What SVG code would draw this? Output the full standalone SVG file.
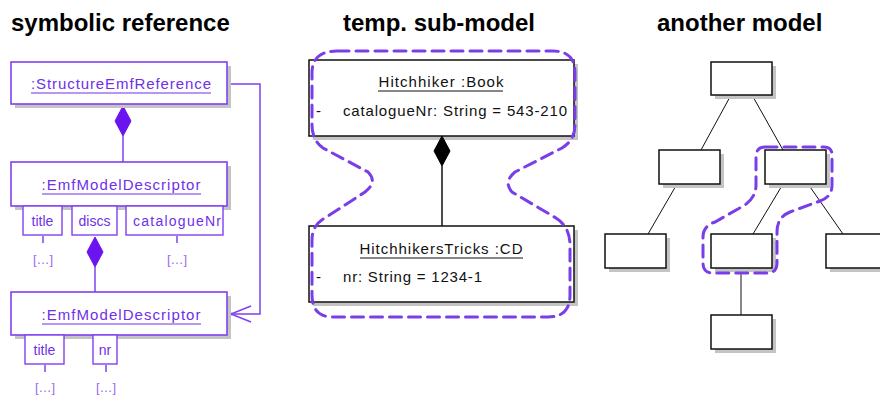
<svg xmlns="http://www.w3.org/2000/svg" width="880" height="396" viewBox="0 0 880 396">
<style>
.title{font-family:"Liberation Sans",Arial,sans-serif;font-size:24px;font-weight:bold;fill:#000}
.pbox{fill:#fff;stroke:#8040f0;stroke-width:1.6}
.pattr{fill:#fff;stroke:#8040f0;stroke-width:1.4}
.shadow{fill:#c4c4c4}
.ptxt{font-family:"Liberation Sans",Arial,sans-serif;font-size:15px;fill:#7030e8}
.ptxt2{font-family:"Liberation Sans",Arial,sans-serif;font-size:14px;fill:#7030e8}
.dots{font-family:"Liberation Sans",Arial,sans-serif;font-size:13px;fill:#9a6af0}
.pline{stroke:#8040f0;stroke-width:1.5;fill:none}
.bbox{fill:#fff;stroke:#111;stroke-width:1.5}
.btxt{font-family:"Liberation Sans",Arial,sans-serif;font-size:15px;fill:#111}
.bline{stroke:#111;stroke-width:1;fill:none}
.dash{fill:none;stroke:#7a3ee8;stroke-width:3;stroke-dasharray:12 7;stroke-linecap:round}
</style>

<text class="title" x="11" y="31">symbolic reference</text>
<text class="title" x="343" y="31">temp. sub-model</text>
<text class="title" x="657" y="31">another model</text>

<!-- Left panel -->
<g id="connectors-left">
  <line class="pline" x1="123" y1="136" x2="123" y2="162"/>
  <line class="pline" x1="95" y1="267" x2="95" y2="292"/>
  <polyline class="pline" points="227,84 260,84 260,314 230,314"/>
  <polyline class="pline" points="251,306 231,314 251,322"/>
  <circle cx="231" cy="314" r="1.6" fill="#8040f0"/>
  <line class="pline" x1="43" y1="236" x2="43" y2="243" stroke-width="1"/>
  <line class="pline" x1="177" y1="236" x2="177" y2="243" stroke-width="1"/>
  <line class="pline" x1="45" y1="365" x2="45" y2="372" stroke-width="1"/>
  <line class="pline" x1="106" y1="365" x2="106" y2="372" stroke-width="1"/>
  <polygon points="123,106 131,121 123,136 115,121" fill="#6a14f0" stroke="#6a14f0"/>
  <polygon points="95,237 103,252 95,267 87,252" fill="#6a14f0" stroke="#6a14f0"/>
</g>

<g id="structureEmfReference">
  <rect class="shadow" x="15" y="66" width="216" height="42"/>
  <rect class="pbox" x="11" y="62" width="216" height="42"/>
  <text class="ptxt" x="121" y="89" text-anchor="middle" textLength="180" lengthAdjust="spacing">:StructureEmfReference</text>
  <line x1="31" y1="93" x2="211" y2="93" stroke="#7030e8" stroke-width="1.2"/>
</g>

<g id="emfModelDescriptor1">
  <rect class="shadow" x="15" y="166" width="216" height="44"/>
  <rect class="pbox" x="11" y="162" width="216" height="44"/>
  <text class="ptxt" x="121" y="190" text-anchor="middle" textLength="159" lengthAdjust="spacing">:EmfModelDescriptor</text>
  <line x1="42" y1="194" x2="201" y2="194" stroke="#7030e8" stroke-width="1.2"/>
  <rect class="pattr" x="23" y="206" width="39" height="29"/>
  <text class="ptxt2" x="42.5" y="226" text-anchor="middle">title</text>
  <rect class="pattr" x="72" y="206" width="45" height="29"/>
  <text class="ptxt2" x="94.5" y="226" text-anchor="middle">discs</text>
  <rect class="pattr" x="126" y="206" width="97" height="29"/>
  <text class="ptxt2" x="177" y="226" text-anchor="middle" textLength="88" lengthAdjust="spacing">catalogueNr</text>
  <text class="dots" x="43" y="264" text-anchor="middle">[…]</text>
  <text class="dots" x="177" y="264" text-anchor="middle">[…]</text>
</g>

<g id="emfModelDescriptor2">
  <rect class="shadow" x="15" y="296" width="216" height="43"/>
  <rect class="pbox" x="11" y="292" width="216" height="43"/>
  <text class="ptxt" x="121" y="320" text-anchor="middle" textLength="159" lengthAdjust="spacing">:EmfModelDescriptor</text>
  <line x1="42" y1="324" x2="201" y2="324" stroke="#7030e8" stroke-width="1.2"/>
  <rect class="pattr" x="25" y="335" width="39" height="29"/>
  <text class="ptxt2" x="44.5" y="355" text-anchor="middle">title</text>
  <rect class="pattr" x="93" y="335" width="24" height="29"/>
  <text class="ptxt2" x="105" y="355" text-anchor="middle">nr</text>
  <text class="dots" x="45" y="392" text-anchor="middle">[…]</text>
  <text class="dots" x="106" y="392" text-anchor="middle">[…]</text>
</g>

<!-- Middle panel -->
<g id="connectors-middle">
  <line x1="442" y1="166" x2="442" y2="226" stroke="#111" stroke-width="1.5"/>
</g>
<g id="hitchhikerBook">
  <rect class="shadow" x="313" y="64" width="265" height="76"/>
  <rect class="bbox" x="309" y="60" width="265" height="76"/>
  <text class="btxt" x="441" y="87" text-anchor="middle" textLength="125" lengthAdjust="spacing">Hitchhiker :Book</text>
  <line x1="378" y1="91" x2="503" y2="91" stroke="#111" stroke-width="1.2"/>
  <text class="btxt" x="316" y="116">-</text>
  <text class="btxt" x="343" y="116" textLength="224" lengthAdjust="spacing">catalogueNr:  String = 543-210</text>
  <polygon points="442,136 450,151 442,166 434,151" fill="#000" stroke="#000"/>
</g>
<g id="hitchhikersTricksCD">
  <rect class="shadow" x="313" y="230" width="265" height="76"/>
  <rect class="bbox" x="309" y="226" width="265" height="76"/>
  <text class="btxt" x="441" y="254" text-anchor="middle" textLength="163" lengthAdjust="spacing">HitchhikersTricks :CD</text>
  <line x1="360" y1="258" x2="523" y2="258" stroke="#111" stroke-width="1.2"/>
  <text class="btxt" x="316" y="282">-</text>
  <text class="btxt" x="343" y="282" textLength="139" lengthAdjust="spacing">nr:  String = 1234-1</text>
</g>
<path class="dash" d="M 337 51 L 553 51 Q 575 51 575 73 L 575 125 Q 575 140 562 148 L 515 172 Q 503 182 512 192 L 556 218 Q 570 227 570 245 L 570 295 Q 570 317 548 317 L 333 317 Q 312 317 312 295 L 312 240 Q 312 225 325 218 L 365 192 Q 378 182 368 172 L 323 148 Q 312 140 312 125 L 312 73 Q 312 51 337 51 Z"/>

<!-- Right panel -->
<g id="connectors-right">
  <line class="bline" x1="731" y1="95" x2="701" y2="150"/>
  <line class="bline" x1="752" y1="95" x2="783" y2="150"/>
  <line class="bline" x1="677" y1="184" x2="648" y2="234"/>
  <line class="bline" x1="783" y1="184" x2="753" y2="234"/>
  <line class="bline" x1="808" y1="184" x2="843" y2="234"/>
  <line class="bline" x1="741" y1="268" x2="741" y2="315"/>
</g>
<g id="tree-root">
  <rect class="shadow" x="715" y="66" width="61" height="33"/>
  <rect class="bbox" x="711" y="62" width="61" height="33"/>
</g>
<g id="tree-mid-left">
  <rect class="shadow" x="663" y="154" width="61" height="34"/>
  <rect class="bbox" x="659" y="150" width="61" height="34"/>
</g>
<g id="tree-mid-right">
  <rect class="shadow" x="769" y="154" width="61" height="34"/>
  <rect class="bbox" x="765" y="150" width="61" height="34"/>
</g>
<g id="tree-bottom-left">
  <rect class="shadow" x="609" y="238" width="61" height="34"/>
  <rect class="bbox" x="605" y="234" width="61" height="34"/>
</g>
<g id="tree-bottom-middle">
  <rect class="shadow" x="715" y="238" width="61" height="34"/>
  <rect class="bbox" x="711" y="234" width="61" height="34"/>
</g>
<g id="tree-bottom-right">
  <rect class="shadow" x="830" y="238" width="61" height="34"/>
  <rect class="bbox" x="826" y="234" width="61" height="34"/>
</g>
<g id="tree-leaf">
  <rect class="shadow" x="715" y="319" width="61" height="34"/>
  <rect class="bbox" x="711" y="315" width="61" height="34"/>
</g>
<path class="dash" d="M 765 147 L 824 147 Q 832 147 832 155 L 832 185 Q 832 197 820 201 L 790 212 Q 777 217 777 232 L 777 263 Q 777 273 767 273 L 713 273 Q 703 273 703 263 L 703 237 Q 703 226 715 222 L 745 205 Q 756 197 756 185 L 756 157 Q 756 147 765 147 Z"/>
</svg>
